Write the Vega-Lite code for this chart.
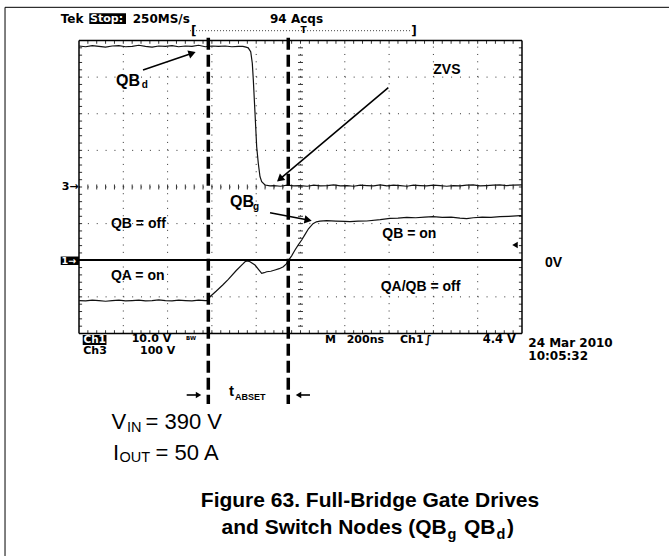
{
 "$schema": "https://vega.github.io/schema/vega-lite/v6.json",
 "width": 669, "height": 556, "autosize": "none", "padding": 0,
 "background": "white",
 "config": {"view": {"stroke": null}},
 "encoding": {
  "x": {"field": "x", "type": "quantitative", "scale": {"domain": [-1.7833, 13.3183], "nice": false, "zero": false}, "axis": null},
  "y": {"field": "y", "type": "quantitative", "scale": {"domain": [-6.0751, 9.1058], "nice": false, "zero": false}, "axis": null}
 },
 "datasets": {
  "seg": [
   {"k": "frame", "x": -1.67, "y": 8.906, "x2": 13.318, "y2": 8.906},
   {"k": "frame", "x": -1.67, "y": 8.906, "x2": -1.67, "y2": -6.075},
   {"k": "gv", "x": 1, "y": 0, "x2": 1, "y2": 8},
   {"k": "gv", "x": 2, "y": 0, "x2": 2, "y2": 8},
   {"k": "gv", "x": 3, "y": 0, "x2": 3, "y2": 8},
   {"k": "gv", "x": 4, "y": 0, "x2": 4, "y2": 8},
   {"k": "gv", "x": 5, "y": 0, "x2": 5, "y2": 8},
   {"k": "gv", "x": 6, "y": 0, "x2": 6, "y2": 8},
   {"k": "gv", "x": 7, "y": 0, "x2": 7, "y2": 8},
   {"k": "gv", "x": 8, "y": 0, "x2": 8, "y2": 8},
   {"k": "gv", "x": 9, "y": 0, "x2": 9, "y2": 8},
   {"k": "gh", "x": 0, "y": 1, "x2": 10, "y2": 1},
   {"k": "gh", "x": 0, "y": 2, "x2": 10, "y2": 2},
   {"k": "gh", "x": 0, "y": 3, "x2": 10, "y2": 3},
   {"k": "gh", "x": 0, "y": 4, "x2": 10, "y2": 4},
   {"k": "gh", "x": 0, "y": 5, "x2": 10, "y2": 5},
   {"k": "gh", "x": 0, "y": 6, "x2": 10, "y2": 6},
   {"k": "gh", "x": 0, "y": 7, "x2": 10, "y2": 7},
   {"k": "brk", "x": 2.506, "y": 8.268, "x2": 7.517, "y2": 8.268},
   {"k": "border", "x": 0, "y": 0, "x2": 10, "y2": 0},
   {"k": "border", "x": 0, "y": 8, "x2": 10, "y2": 8},
   {"k": "border", "x": 0, "y": 0, "x2": 0, "y2": 8},
   {"k": "border", "x": 10, "y": 0, "x2": 10, "y2": 8},
   {"k": "zero", "x": 0, "y": 2.01, "x2": 10, "y2": 2.01},
   {"k": "dash", "x": 2.919, "y": 8.077, "x2": 2.919, "y2": -1.925},
   {"k": "dash", "x": 4.724, "y": 8.077, "x2": 4.724, "y2": -1.925},
   {"k": "arrow", "x": 1.445, "y": 7.195, "x2": 2.555, "y2": 7.651},
   {"k": "arrow", "x": 6.982, "y": 6.711, "x2": 4.533, "y2": 4.216},
   {"k": "arrow", "x": 4.312, "y": 3.298, "x2": 5.172, "y2": 3.099},
   {"k": "arrow", "x": 2.431, "y": -1.679, "x2": 2.698, "y2": -1.679},
   {"k": "arrow", "x": 5.214, "y": -1.679, "x2": 4.955, "y2": -1.679}
  ],
  "boxes": [
   {"x": 0.233, "x2": 1.061, "y": 8.743, "y2": 8.451},
   {"x": -0.413, "x2": 0, "y": 2.102, "y2": 1.87},
   {"x": 0.084, "x2": 0.62, "y": -0.041, "y2": -0.314}
  ],
  "tx": [
   {"x": [0.2,0.4,0.6,0.8,1,1.2,1.4,1.6,1.8,2,2.2,2.4,2.6,2.8,3,3.2,3.4,3.6,3.8,4,4.2,4.4,4.6,4.8,5,5.2,5.4,5.6,5.8,6,6.2,6.4,6.6,6.8,7,7.2,7.4,7.6,7.8,8,8.2,8.4,8.6,8.8,9,9.2,9.4,9.6,9.8], "y": 8, "y2": 7.91},
   {"x": [0.2,0.4,0.6,0.8,1,1.2,1.4,1.6,1.8,2,2.2,2.4,2.6,2.8,3,3.2,3.4,3.6,3.8,4,4.2,4.4,4.6,4.8,5,5.2,5.4,5.6,5.8,6,6.2,6.4,6.6,6.8,7,7.2,7.4,7.6,7.8,8,8.2,8.4,8.6,8.8,9,9.2,9.4,9.6,9.8], "y": 0, "y2": 0.09},
   {"x": [0.2,0.4,0.6,0.8,1,1.2,1.4,1.6,1.8,2,2.2,2.4,2.6,2.8,3,3.2,3.4,3.6,3.8,4,4.2,4.4,4.6,4.8,5,5.2,5.4,5.6,5.8,6,6.2,6.4,6.6,6.8,7,7.2,7.4,7.6,7.8,8,8.2,8.4,8.6,8.8,9,9.2,9.4,9.6,9.8], "y": 3.932, "y2": 4.068}
  ],
  "ty": [
   {"y": [0.2,0.4,0.6,0.8,1,1.2,1.4,1.6,1.8,2,2.2,2.4,2.6,2.8,3,3.2,3.4,3.6,3.8,4,4.2,4.4,4.6,4.8,5,5.2,5.4,5.6,5.8,6,6.2,6.4,6.6,6.8,7,7.2,7.4,7.6,7.8], "x": 0, "x2": 0.07},
   {"y": [0.2,0.4,0.6,0.8,1,1.2,1.4,1.6,1.8,2,2.2,2.4,2.6,2.8,3,3.2,3.4,3.6,3.8,4,4.2,4.4,4.6,4.8,5,5.2,5.4,5.6,5.8,6,6.2,6.4,6.6,6.8,7,7.2,7.4,7.6,7.8], "x": 10, "x2": 9.93},
   {"y": [0.2,0.4,0.6,0.8,1,1.2,1.4,1.6,1.8,2,2.2,2.4,2.6,2.8,3,3.2,3.4,3.6,3.8,4,4.2,4.4,4.6,4.8,5,5.2,5.4,5.6,5.8,6,6.2,6.4,6.6,6.8,7,7.2,7.4,7.6,7.8], "x": 4.944, "x2": 5.056}
  ],
  "trace": [
   {"s": "QBd", "x": 0.0, "y": 7.85}, {"s": "QBd", "x": 0.15, "y": 7.83}, {"s": "QBd", "x": 0.3, "y": 7.86}, {"s": "QBd", "x": 0.45, "y": 7.84},
   {"s": "QBd", "x": 0.6, "y": 7.82}, {"s": "QBd", "x": 0.75, "y": 7.85}, {"s": "QBd", "x": 0.9, "y": 7.86}, {"s": "QBd", "x": 1.05, "y": 7.83},
   {"s": "QBd", "x": 1.2, "y": 7.84}, {"s": "QBd", "x": 1.35, "y": 7.87}, {"s": "QBd", "x": 1.5, "y": 7.84}, {"s": "QBd", "x": 1.65, "y": 7.82},
   {"s": "QBd", "x": 1.8, "y": 7.85}, {"s": "QBd", "x": 1.95, "y": 7.84}, {"s": "QBd", "x": 2.1, "y": 7.86}, {"s": "QBd", "x": 2.25, "y": 7.83},
   {"s": "QBd", "x": 2.4, "y": 7.85}, {"s": "QBd", "x": 2.55, "y": 7.84}, {"s": "QBd", "x": 2.7, "y": 7.87}, {"s": "QBd", "x": 2.85, "y": 7.83},
   {"s": "QBd", "x": 3.0, "y": 7.85}, {"s": "QBd", "x": 3.15, "y": 7.84}, {"s": "QBd", "x": 3.3, "y": 7.85}, {"s": "QBd", "x": 3.45, "y": 7.83},
   {"s": "QBd", "x": 3.6, "y": 7.84}, {"s": "QBd", "x": 3.7, "y": 7.84}, {"s": "QBd", "x": 3.77, "y": 7.82}, {"s": "QBd", "x": 3.82, "y": 7.8},
   {"s": "QBd", "x": 3.876, "y": 7.694}, {"s": "QBd", "x": 3.912, "y": 7.378}, {"s": "QBd", "x": 3.935, "y": 6.922}, {"s": "QBd", "x": 3.973, "y": 6.02},
   {"s": "QBd", "x": 4.011, "y": 5.1}, {"s": "QBd", "x": 4.047, "y": 4.647}, {"s": "QBd", "x": 4.086, "y": 4.281}, {"s": "QBd", "x": 4.124, "y": 4.145},
   {"s": "QBd", "x": 4.199, "y": 4.055}, {"s": "QBd", "x": 4.312, "y": 4.03}, {"s": "QBd", "x": 4.4, "y": 4.04}, {"s": "QBd", "x": 4.55, "y": 4.02},
   {"s": "QBd", "x": 4.7, "y": 4.05}, {"s": "QBd", "x": 4.85, "y": 4.03}, {"s": "QBd", "x": 5.0, "y": 4.04}, {"s": "QBd", "x": 5.15, "y": 4.02},
   {"s": "QBd", "x": 5.3, "y": 4.05}, {"s": "QBd", "x": 5.45, "y": 4.03}, {"s": "QBd", "x": 5.6, "y": 4.04}, {"s": "QBd", "x": 5.75, "y": 4.06},
   {"s": "QBd", "x": 5.9, "y": 4.03}, {"s": "QBd", "x": 6.05, "y": 4.04}, {"s": "QBd", "x": 6.2, "y": 4.02}, {"s": "QBd", "x": 6.35, "y": 4.05},
   {"s": "QBd", "x": 6.5, "y": 4.04}, {"s": "QBd", "x": 6.65, "y": 4.03}, {"s": "QBd", "x": 6.8, "y": 4.06}, {"s": "QBd", "x": 6.95, "y": 4.03},
   {"s": "QBd", "x": 7.1, "y": 4.05}, {"s": "QBd", "x": 7.25, "y": 4.04}, {"s": "QBd", "x": 7.4, "y": 4.02}, {"s": "QBd", "x": 7.55, "y": 4.05},
   {"s": "QBd", "x": 7.7, "y": 4.04}, {"s": "QBd", "x": 7.85, "y": 4.03}, {"s": "QBd", "x": 8.0, "y": 4.05}, {"s": "QBd", "x": 8.15, "y": 4.04},
   {"s": "QBd", "x": 8.3, "y": 4.02}, {"s": "QBd", "x": 8.45, "y": 4.04}, {"s": "QBd", "x": 8.6, "y": 4.03}, {"s": "QBd", "x": 8.75, "y": 4.05},
   {"s": "QBd", "x": 8.9, "y": 4.06}, {"s": "QBd", "x": 9.05, "y": 4.03}, {"s": "QBd", "x": 9.2, "y": 4.04}, {"s": "QBd", "x": 9.35, "y": 4.05},
   {"s": "QBd", "x": 9.5, "y": 4.06}, {"s": "QBd", "x": 9.65, "y": 4.04}, {"s": "QBd", "x": 9.8, "y": 4.05}, {"s": "QBd", "x": 10.0, "y": 4.06},
   {"s": "QBg", "x": 0.0, "y": 0.9}, {"s": "QBg", "x": 0.15, "y": 0.89}, {"s": "QBg", "x": 0.3, "y": 0.91}, {"s": "QBg", "x": 0.45, "y": 0.9},
   {"s": "QBg", "x": 0.6, "y": 0.88}, {"s": "QBg", "x": 0.75, "y": 0.9}, {"s": "QBg", "x": 0.9, "y": 0.91}, {"s": "QBg", "x": 1.05, "y": 0.89},
   {"s": "QBg", "x": 1.2, "y": 0.9}, {"s": "QBg", "x": 1.35, "y": 0.91}, {"s": "QBg", "x": 1.5, "y": 0.89}, {"s": "QBg", "x": 1.65, "y": 0.9},
   {"s": "QBg", "x": 1.8, "y": 0.92}, {"s": "QBg", "x": 1.95, "y": 0.9}, {"s": "QBg", "x": 2.1, "y": 0.89}, {"s": "QBg", "x": 2.25, "y": 0.91},
   {"s": "QBg", "x": 2.4, "y": 0.9}, {"s": "QBg", "x": 2.55, "y": 0.89}, {"s": "QBg", "x": 2.7, "y": 0.91}, {"s": "QBg", "x": 2.85, "y": 0.9},
   {"s": "QBg", "x": 2.92, "y": 0.9}, {"s": "QBg", "x": 2.957, "y": 1.005}, {"s": "QBg", "x": 3.1, "y": 1.16}, {"s": "QBg", "x": 3.25, "y": 1.33},
   {"s": "QBg", "x": 3.37, "y": 1.48}, {"s": "QBg", "x": 3.55, "y": 1.72}, {"s": "QBg", "x": 3.7, "y": 1.9}, {"s": "QBg", "x": 3.747, "y": 1.96},
   {"s": "QBg", "x": 3.8, "y": 1.98}, {"s": "QBg", "x": 3.86, "y": 1.96}, {"s": "QBg", "x": 3.973, "y": 1.87}, {"s": "QBg", "x": 4.06, "y": 1.74},
   {"s": "QBg", "x": 4.124, "y": 1.644}, {"s": "QBg", "x": 4.18, "y": 1.66}, {"s": "QBg", "x": 4.237, "y": 1.687}, {"s": "QBg", "x": 4.33, "y": 1.7},
   {"s": "QBg", "x": 4.424, "y": 1.734}, {"s": "QBg", "x": 4.52, "y": 1.77}, {"s": "QBg", "x": 4.612, "y": 1.824}, {"s": "QBg", "x": 4.68, "y": 1.9},
   {"s": "QBg", "x": 4.725, "y": 1.988}, {"s": "QBg", "x": 4.8, "y": 2.12}, {"s": "QBg", "x": 4.876, "y": 2.28}, {"s": "QBg", "x": 4.95, "y": 2.42},
   {"s": "QBg", "x": 5.027, "y": 2.553}, {"s": "QBg", "x": 5.1, "y": 2.7}, {"s": "QBg", "x": 5.18, "y": 2.86}, {"s": "QBg", "x": 5.282, "y": 3.0},
   {"s": "QBg", "x": 5.36, "y": 3.05}, {"s": "QBg", "x": 5.44, "y": 3.07}, {"s": "QBg", "x": 5.591, "y": 3.08}, {"s": "QBg", "x": 5.8, "y": 3.07},
   {"s": "QBg", "x": 6.0, "y": 3.06}, {"s": "QBg", "x": 6.117, "y": 3.053}, {"s": "QBg", "x": 6.3, "y": 3.07}, {"s": "QBg", "x": 6.494, "y": 3.072},
   {"s": "QBg", "x": 6.8, "y": 3.11}, {"s": "QBg", "x": 7.02, "y": 3.145}, {"s": "QBg", "x": 7.2, "y": 3.15}, {"s": "QBg", "x": 7.4, "y": 3.17},
   {"s": "QBg", "x": 7.6, "y": 3.16}, {"s": "QBg", "x": 7.8, "y": 3.18}, {"s": "QBg", "x": 7.991, "y": 3.19}, {"s": "QBg", "x": 8.2, "y": 3.17},
   {"s": "QBg", "x": 8.4, "y": 3.18}, {"s": "QBg", "x": 8.6, "y": 3.15}, {"s": "QBg", "x": 8.752, "y": 3.134}, {"s": "QBg", "x": 8.9, "y": 3.16},
   {"s": "QBg", "x": 9.1, "y": 3.18}, {"s": "QBg", "x": 9.3, "y": 3.17}, {"s": "QBg", "x": 9.503, "y": 3.189}, {"s": "QBg", "x": 9.7, "y": 3.2},
   {"s": "QBg", "x": 9.955, "y": 3.216}, {"s": "QBg", "x": 10.0, "y": 3.22}
  ],
  "heads": [
   {"x": 2.555, "y": 7.651, "a": 71, "sz": 70},
   {"x": 4.533, "y": 4.216, "a": 230, "sz": 70},
   {"x": 5.172, "y": 3.099, "a": 101, "sz": 70},
   {"x": 2.698, "y": -1.679, "a": 90, "sz": 40},
   {"x": 4.955, "y": -1.679, "a": 270, "sz": 40},
   {"x": 9.842, "y": 2.416, "a": 270, "sz": 40}
  ],
  "txt": [
   {"g": "scope", "t": "Tek", "x": -0.413, "y": 8.587, "fs": 12, "c": "black"},
   {"g": "scope", "t": "250MS/s", "x": 1.212, "y": 8.587, "fs": 12, "c": "black"},
   {"g": "scope", "t": "94 Acqs", "x": 4.312, "y": 8.587, "fs": 12, "c": "black"},
   {"g": "scope", "t": "3→", "x": -0.391, "y": 4.0, "fs": 11, "c": "black"},
   {"g": "scope", "t": "10.0 V", "x": 1.19, "y": -0.16, "fs": 11, "c": "black"},
   {"g": "scope", "t": "BW", "x": 2.415, "y": -0.12, "fs": 5.5, "c": "black"},
   {"g": "scope", "t": "Ch3", "x": 0.097, "y": -0.49, "fs": 11, "c": "black"},
   {"g": "scope", "t": "100 V", "x": 1.377, "y": -0.49, "fs": 11, "c": "black"},
   {"g": "scope", "t": "M", "x": 5.553, "y": -0.177, "fs": 11, "c": "black"},
   {"g": "scope", "t": "200ns", "x": 6.043, "y": -0.177, "fs": 11, "c": "black"},
   {"g": "scope", "t": "Ch1", "x": 7.246, "y": -0.177, "fs": 11, "c": "black"},
   {"g": "scope", "t": "∫", "x": 7.81, "y": -0.177, "fs": 11, "c": "black"},
   {"g": "scope", "t": "4.4 V", "x": 9.113, "y": -0.177, "fs": 11.5, "c": "black"},
   {"g": "scope", "t": "24 Mar 2010", "x": 10.142, "y": -0.251, "fs": 12, "c": "black"},
   {"g": "scope", "t": "10:05:32", "x": 10.142, "y": -0.614, "fs": 12, "c": "black"},
   {"g": "scope", "t": "Stop:", "x": 0.25, "y": 8.587, "fs": 11, "c": "white"},
   {"g": "scope", "t": "1→", "x": -0.395, "y": 1.988, "fs": 9.5, "c": "white"},
   {"g": "scope", "t": "Ch1", "x": 0.1, "y": -0.177, "fs": 10.5, "c": "white"},
   {"g": "brk", "t": "[", "x": 2.53, "y": 8.268, "fs": 12, "c": "black"},
   {"g": "brk", "t": "]", "x": 7.5, "y": 8.268, "fs": 12, "c": "black"},
   {"g": "brk", "t": "T", "x": 5.0, "y": 8.29, "fs": 9, "c": "black"},
   {"g": "ann", "t": "QB", "x": 0.835, "y": 6.902, "fs": 16, "c": "black"},
   {"g": "ann", "t": "d", "x": 1.415, "y": 6.785, "fs": 10, "c": "black"},
   {"g": "ann", "t": "ZVS", "x": 7.998, "y": 7.195, "fs": 14, "c": "black"},
   {"g": "ann", "t": "QB", "x": 3.409, "y": 3.599, "fs": 16, "c": "black"},
   {"g": "ann", "t": "g", "x": 3.93, "y": 3.46, "fs": 10, "c": "black"},
   {"g": "ann", "t": "QB = off", "x": 0.722, "y": 2.99, "fs": 14, "c": "black"},
   {"g": "ann", "t": "QA = on", "x": 0.722, "y": 1.57, "fs": 14, "c": "black"},
   {"g": "ann", "t": "QB = on", "x": 6.847, "y": 2.717, "fs": 14, "c": "black"},
   {"g": "ann", "t": "QA/QB = off", "x": 6.81, "y": 1.278, "fs": 14, "c": "black"},
   {"g": "ann", "t": "0V", "x": 10.519, "y": 1.917, "fs": 14, "c": "black"},
   {"g": "ann", "t": "t", "x": 3.386, "y": -1.57, "fs": 15, "c": "black"},
   {"g": "ann", "t": "ABSET", "x": 3.521, "y": -1.734, "fs": 9, "c": "black"},
   {"g": "vin", "t": "V", "x": 0.736, "y": -2.608, "fs": 22, "c": "black"},
   {"g": "vin", "t": "IN", "x": 1.084, "y": -2.681, "fs": 14.5, "c": "black"},
   {"g": "vin", "t": "= 390 V", "x": 1.5, "y": -2.608, "fs": 22, "c": "black"},
   {"g": "vin", "t": "I", "x": 0.767, "y": -3.454, "fs": 22, "c": "black"},
   {"g": "vin", "t": "OUT", "x": 0.914, "y": -3.509, "fs": 14.5, "c": "black"},
   {"g": "vin", "t": "= 50 A", "x": 1.729, "y": -3.454, "fs": 22, "c": "black"},
   {"g": "cap1", "t": "Figure 63. Full-Bridge Gate Drives", "x": 6.569, "y": -4.729, "fs": 21, "c": "black"},
   {"g": "cap2", "t": "and Switch Nodes (QB", "x": 3.217, "y": -5.474, "fs": 21, "c": "black"},
   {"g": "cap2", "t": "g", "x": 8.318, "y": -5.6, "fs": 14.5, "c": "black"},
   {"g": "cap2", "t": "QB", "x": 8.691, "y": -5.474, "fs": 21, "c": "black"},
   {"g": "cap2", "t": "d", "x": 9.424, "y": -5.6, "fs": 14.5, "c": "black"},
   {"g": "cap2", "t": ")", "x": 9.661, "y": -5.474, "fs": 21, "c": "black"}
  ]
 },
 "layer": [
  {"data": {"name": "seg"}, "transform": [{"filter": "datum.k === 'frame'"}], "mark": {"type": "rule", "color": "black", "strokeWidth": 1}, "encoding": {"x2": {"field": "x2"}, "y2": {"field": "y2"}}},
  {"data": {"name": "seg"}, "transform": [{"filter": "datum.k === 'gv'"}], "mark": {"type": "rule", "color": "#333", "strokeWidth": 1, "strokeDash": [1, 6.33]}, "encoding": {"x2": {"field": "x2"}, "y2": {"field": "y2"}}},
  {"data": {"name": "seg"}, "transform": [{"filter": "datum.k === 'gh'"}], "mark": {"type": "rule", "color": "#333", "strokeWidth": 1, "strokeDash": [1, 7.86]}, "encoding": {"x2": {"field": "x2"}, "y2": {"field": "y2"}}},
  {"data": {"name": "seg"}, "transform": [{"filter": "datum.k === 'brk'"}], "mark": {"type": "rule", "color": "#444", "strokeWidth": 1, "strokeDash": [1, 2]}, "encoding": {"x2": {"field": "x2"}, "y2": {"field": "y2"}}},
  {"data": {"name": "tx"}, "transform": [{"flatten": ["x"]}], "mark": {"type": "rule", "color": "#333", "strokeWidth": 1}, "encoding": {"y2": {"field": "y2"}}},
  {"data": {"name": "ty"}, "transform": [{"flatten": ["y"]}], "mark": {"type": "rule", "color": "#333", "strokeWidth": 1}, "encoding": {"x2": {"field": "x2"}}},
  {"data": {"name": "seg"}, "transform": [{"filter": "datum.k === 'border'"}], "mark": {"type": "rule", "color": "black", "strokeWidth": 1.5}, "encoding": {"x2": {"field": "x2"}, "y2": {"field": "y2"}}},
  {"data": {"name": "boxes"}, "mark": {"type": "rect", "color": "black"}, "encoding": {"x2": {"field": "x2"}, "y2": {"field": "y2"}}},
  {"data": {"name": "trace"}, "mark": {"type": "line", "color": "#111", "strokeWidth": 1.2}, "encoding": {"detail": {"field": "s"}}},
  {"data": {"name": "seg"}, "transform": [{"filter": "datum.k === 'zero'"}], "mark": {"type": "rule", "color": "black", "strokeWidth": 2}, "encoding": {"x2": {"field": "x2"}, "y2": {"field": "y2"}}},
  {"data": {"name": "seg"}, "transform": [{"filter": "datum.k === 'dash'"}], "mark": {"type": "rule", "color": "black", "strokeWidth": 3.5, "strokeDash": [12, 5]}, "encoding": {"x2": {"field": "x2"}, "y2": {"field": "y2"}}},
  {"data": {"name": "seg"}, "transform": [{"filter": "datum.k === 'arrow'"}], "mark": {"type": "rule", "color": "black", "strokeWidth": 1.6}, "encoding": {"x2": {"field": "x2"}, "y2": {"field": "y2"}}},
  {"data": {"name": "heads"}, "mark": {"type": "point", "shape": "triangle-up", "filled": true, "color": "black", "opacity": 1}, "encoding": {"angle": {"field": "a", "type": "quantitative", "scale": null}, "size": {"field": "sz", "type": "quantitative", "scale": null}}},
  {"data": {"name": "txt"}, "transform": [{"filter": "datum.g === 'scope' || datum.g === 'brk'"}], "mark": {"type": "text", "font": "DejaVu Sans", "fontWeight": "bold", "align": "left", "baseline": "middle"}, "encoding": {"text": {"field": "t"}, "size": {"field": "fs", "type": "quantitative", "scale": null}, "color": {"field": "c", "type": "nominal", "scale": null}}},
  {"data": {"name": "txt"}, "transform": [{"filter": "datum.g === 'ann'"}], "mark": {"type": "text", "font": "Liberation Sans", "fontWeight": "bold", "align": "left", "baseline": "middle"}, "encoding": {"text": {"field": "t"}, "size": {"field": "fs", "type": "quantitative", "scale": null}, "color": {"field": "c", "type": "nominal", "scale": null}}},
  {"data": {"name": "txt"}, "transform": [{"filter": "datum.g === 'vin'"}], "mark": {"type": "text", "font": "Liberation Sans", "align": "left", "baseline": "alphabetic"}, "encoding": {"text": {"field": "t"}, "size": {"field": "fs", "type": "quantitative", "scale": null}, "color": {"field": "c", "type": "nominal", "scale": null}}},
  {"data": {"name": "txt"}, "transform": [{"filter": "datum.g === 'cap1'"}], "mark": {"type": "text", "font": "Liberation Sans", "fontWeight": "bold", "align": "center", "baseline": "alphabetic"}, "encoding": {"text": {"field": "t"}, "size": {"field": "fs", "type": "quantitative", "scale": null}, "color": {"field": "c", "type": "nominal", "scale": null}}},
  {"data": {"name": "txt"}, "transform": [{"filter": "datum.g === 'cap2'"}], "mark": {"type": "text", "font": "Liberation Sans", "fontWeight": "bold", "align": "left", "baseline": "alphabetic"}, "encoding": {"text": {"field": "t"}, "size": {"field": "fs", "type": "quantitative", "scale": null}, "color": {"field": "c", "type": "nominal", "scale": null}}}
 ]
}
